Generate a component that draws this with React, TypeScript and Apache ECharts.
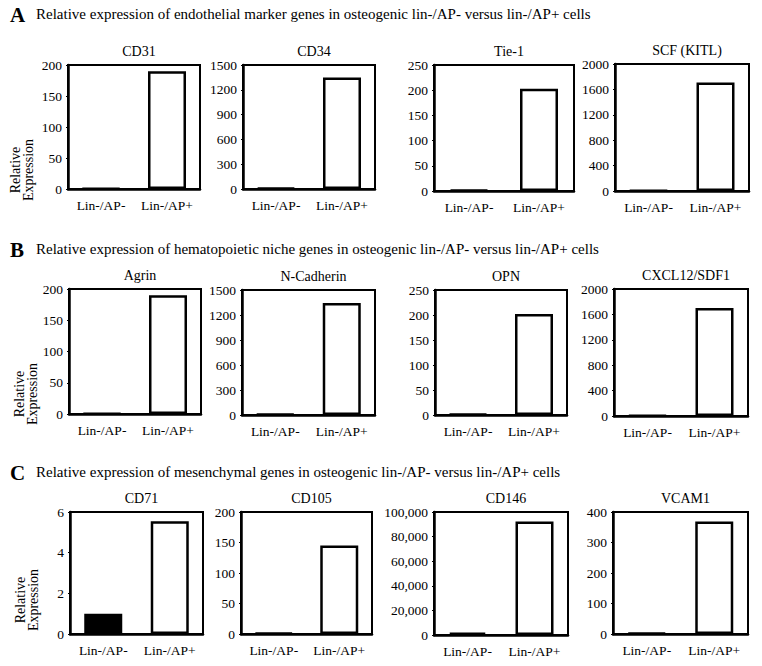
import React, { useEffect, useRef } from "react";
import * as echarts from "echarts";

const categories = ["Lin-/AP-", "Lin-/AP+"];
const panelNames = ["CD31", "CD34", "Tie-1", "SCF (KITL)", "Agrin", "N-Cadherin", "OPN", "CXCL12/SDF1", "CD71", "CD105", "CD146", "VCAM1"];
const negValues = [1, 15, 2, 5, 1, 10, 2, 10, 1, 2, 2000, 3];
const posValues = [190, 1350, 203, 1710, 190, 1345, 202, 1700, 5.55, 145, 92300, 369];
const axisMax = [200, 1500, 250, 2000, 200, 1500, 250, 2000, 6, 200, 100000, 400];
const axisStep = [50, 300, 50, 400, 50, 300, 50, 400, 2, 50, 20000, 100];
const sectionLetters = ["A", "B", "C"];
const sectionTitles = [
  "Relative expression of endothelial marker genes in osteogenic lin-/AP- versus lin-/AP+ cells",
  "Relative expression of hematopoietic niche genes in osteogenic lin-/AP- versus lin-/AP+ cells",
  "Relative expression of mesenchymal genes in osteogenic lin-/AP- versus lin-/AP+ cells",
];
const yAxisName = "Relative\nExpression";

// layout: [left, top, width, height]
const gridBoxes = [
  [68, 65, 132, 124], [243, 65, 132, 124], [434, 65, 140, 126], [615, 64, 134, 127],
  [69, 289, 132, 125], [242, 290, 133, 125], [435, 290, 132, 125], [614, 289, 134, 127],
  [70, 512, 133, 122], [241, 512, 131, 122], [434, 512, 134, 123], [613, 512, 135, 122],
];
const sectionY = [15, 250, 473];
const yNamePos = [[22, 170], [26, 394], [27, 600]];

const FONT = "Liberation Serif";

export default function App() {
  const ref = useRef<HTMLDivElement>(null);
  useEffect(() => {
    document.body.style.margin = "0";
    const chart = echarts.init(ref.current!, undefined, { renderer: "svg" });
    const grids: any[] = [];
    const xAxes: any[] = [];
    const yAxes: any[] = [];
    const series: any[] = [];
    const titles: any[] = [];
    const graphics: any[] = [];

    panelNames.forEach((name, i) => {
      const [l, t, w, h] = gridBoxes[i];
      grids.push({ left: l, top: t, width: w, height: h, show: true, borderColor: "#000", borderWidth: 2, backgroundColor: "transparent" });
      xAxes.push({
        type: "category", gridIndex: i, data: categories,
        axisLine: { show: true, lineStyle: { color: "#000", width: 2.5 } },
        axisTick: { show: false },
        axisLabel: { color: "#000", fontFamily: FONT, fontSize: 13.5, margin: 9, interval: 0, hideOverlap: false },
      });
      yAxes.push({
        type: "value", gridIndex: i, min: 0, max: axisMax[i], interval: axisStep[i],
        splitLine: { show: false },
        axisLine: { show: true, lineStyle: { color: "#000", width: 2.5 } },
        axisTick: { show: true, length: 2, lineStyle: { color: "#000" } },
        axisLabel: {
          color: "#000", fontFamily: FONT, fontSize: 13.5, margin: 6,
          formatter: (v: number) => (axisMax[i] >= 10000 ? v.toLocaleString("en-US") : String(v)),
        },
      });
      series.push({
        type: "bar", xAxisIndex: i, yAxisIndex: i, barWidth: 38,
        data: [
          { value: negValues[i], itemStyle: { color: "#000", borderColor: "#000", borderWidth: 2.5 } },
          { value: posValues[i], itemStyle: { color: "#fff", borderColor: "#000", borderWidth: 2.5 } },
        ],
      });
      titles.push({
        text: name, left: l + w / 2, top: t - 26, textAlign: "center",
        textStyle: { color: "#000", fontFamily: FONT, fontSize: 14, fontWeight: "normal" },
      });
    });

    sectionLetters.forEach((letter, k) => {
      graphics.push({
        type: "text", left: 10, top: sectionY[k] - 11,
        style: { text: letter, fill: "#000", fontFamily: FONT, fontSize: 21, fontWeight: "bold" },
      });
      graphics.push({
        type: "text", left: 36, top: sectionY[k] - 9,
        style: { text: sectionTitles[k], fill: "#000", fontFamily: FONT, fontSize: 15 },
      });
      graphics.push({
        type: "text", x: yNamePos[k][0], y: yNamePos[k][1], rotation: Math.PI / 2,
        style: {
          text: yAxisName, fill: "#000", fontFamily: FONT, fontSize: 14, lineHeight: 13,
          align: "center", verticalAlign: "middle",
        },
      });
    });

    chart.setOption({
      animation: false,
      backgroundColor: "#fff",
      textStyle: { fontFamily: FONT, color: "#000" },
      grid: grids,
      xAxis: xAxes,
      yAxis: yAxes,
      series,
      title: titles,
      graphic: graphics,
    });
    return () => chart.dispose();
  }, []);
  return <div ref={ref} style={{ width: 762, height: 666 }} />;
}
